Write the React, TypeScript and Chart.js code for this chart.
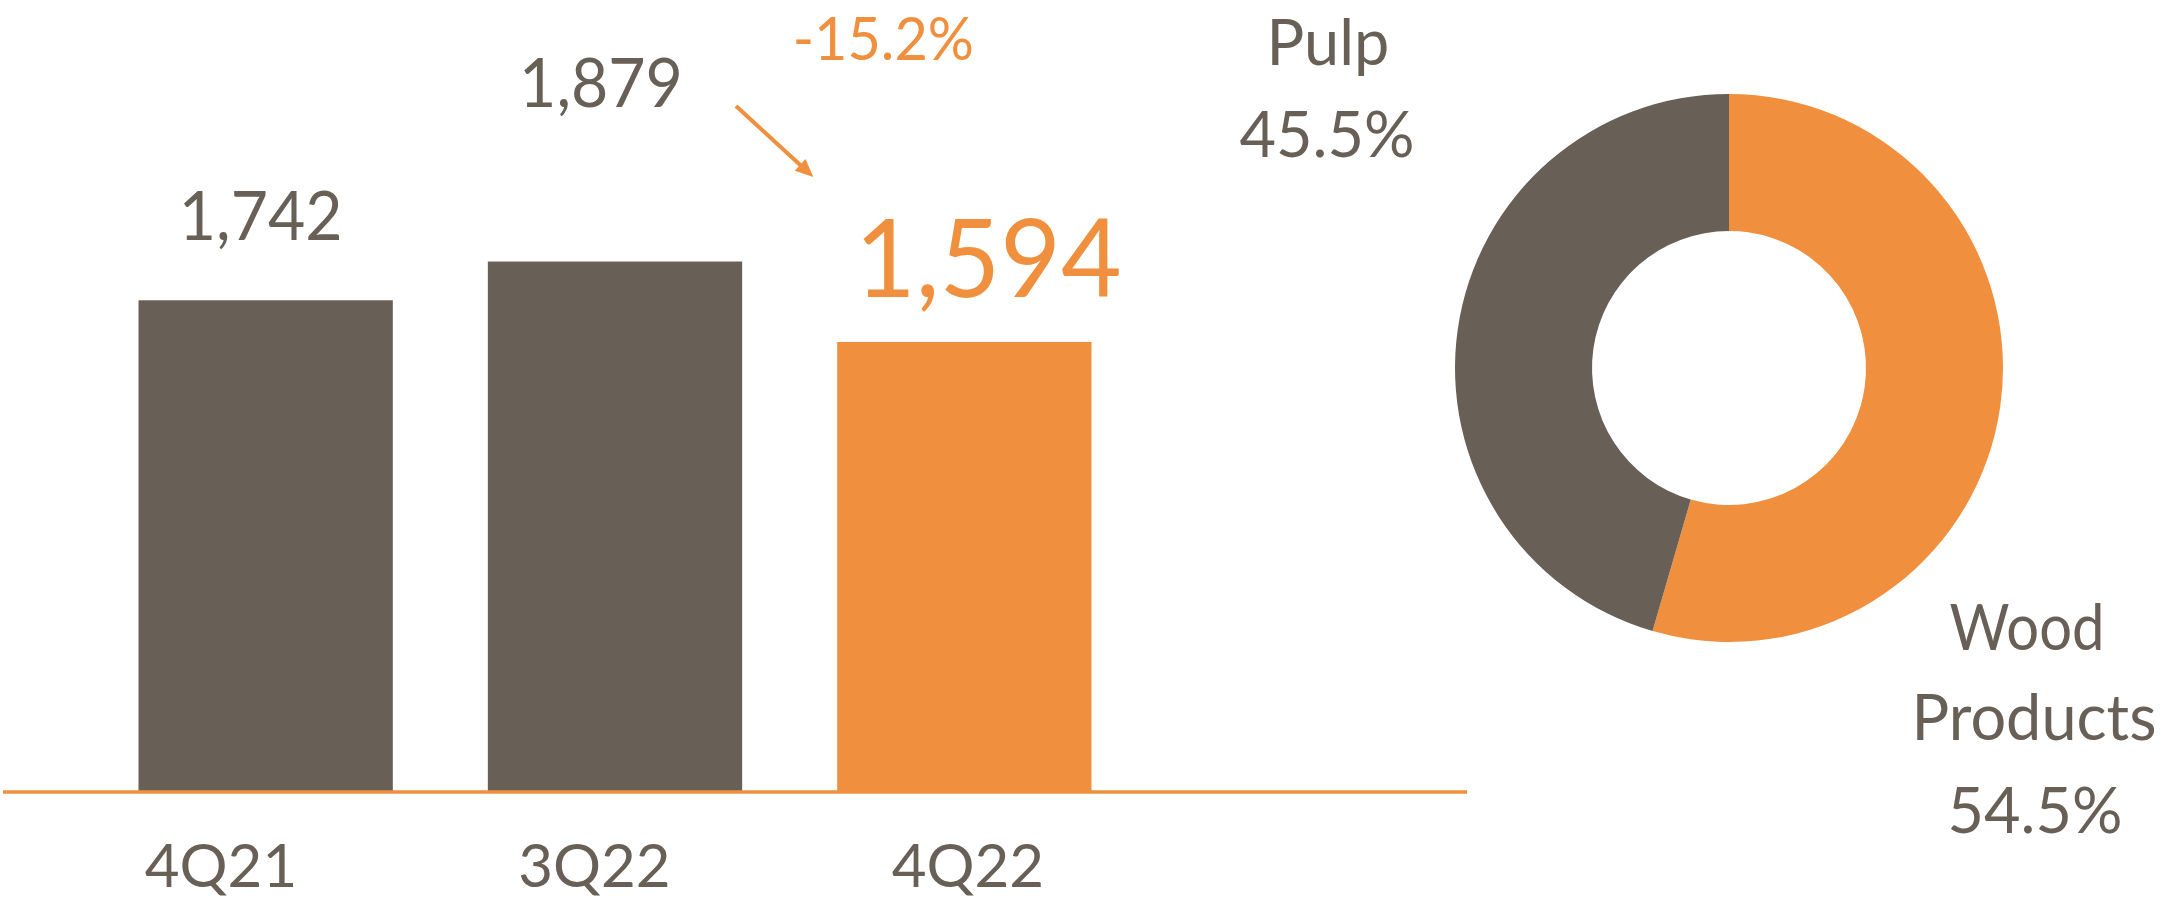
import React, { useEffect, useRef } from "react";
import { Chart, registerables } from "chart.js";

Chart.register(...registerables);

// ---- data ----
const categories = ["4Q21", "3Q22", "4Q22"];
const revenue = [1742, 1879, 1594];
const valueLabels = ["1,742", "1,879", "1,594"];
const changeLabel = "-15.2%";
const segmentNames = ["Wood Products", "Pulp"];
const segmentShares = [54.5, 45.5];
const woodLabelLines = ["Wood", "Products", "54.5%"];
const pulpLabelLines = ["Pulp", "45.5%"];

// ---- style ----
const GREY = "#686057";
const ORANGE = "#F0903F";
const FONT = "Lato, 'Open Sans', sans-serif";

function drawText(
  ctx: CanvasRenderingContext2D,
  text: string,
  x: number,
  y: number,
  size: number,
  color: string,
  squeeze = 1
) {
  ctx.save();
  ctx.font = `normal ${size}px ${FONT}`;
  ctx.fillStyle = color;
  ctx.textAlign = "center";
  ctx.textBaseline = "alphabetic";
  ctx.translate(x, y);
  ctx.scale(squeeze, 1);
  ctx.fillText(text, 0, 0);
  ctx.restore();
}

const barAnnotations = {
  id: "barAnnotations",
  afterDatasetsDraw(chart: any) {
    const ctx: CanvasRenderingContext2D = chart.ctx;
    const b = chart.getDatasetMeta(0).data;
    const zeroY = chart.scales.y.getPixelForValue(0);
    // baseline
    ctx.save();
    ctx.strokeStyle = ORANGE;
    ctx.lineWidth = 3.5;
    ctx.beginPath();
    ctx.moveTo(3, zeroY);
    ctx.lineTo(1467, zeroY);
    ctx.stroke();
    ctx.restore();
    // value labels
    const sq = 0.96;
    drawText(ctx, valueLabels[0], b[0].x - 5, b[0].y - 60, 67, GREY, sq);
    drawText(ctx, valueLabels[1], b[1].x - 14, b[1].y - 154.5, 67, GREY, sq);
    drawText(ctx, valueLabels[2], b[2].x + 24, b[2].y - 45, 109, ORANGE, sq);
    drawText(ctx, changeLabel, b[2].x - 81, b[2].y - 282, 60, ORANGE, sq);
    // arrow
    const x1 = b[1].x + 121, y1 = b[1].y - 155.5;
    const x2 = b[2].x - 151, y2 = b[2].y - 165;
    const ang = Math.atan2(y2 - y1, x2 - x1);
    ctx.save();
    ctx.strokeStyle = ORANGE;
    ctx.fillStyle = ORANGE;
    ctx.lineWidth = 4;
    ctx.beginPath();
    ctx.moveTo(x1, y1);
    ctx.lineTo(x2 - 10 * Math.cos(ang), y2 - 10 * Math.sin(ang));
    ctx.stroke();
    const hl = 18, hw = 8;
    ctx.beginPath();
    ctx.moveTo(x2, y2);
    ctx.lineTo(
      x2 - hl * Math.cos(ang) + hw * Math.sin(ang),
      y2 - hl * Math.sin(ang) - hw * Math.cos(ang)
    );
    ctx.lineTo(
      x2 - hl * Math.cos(ang) - hw * Math.sin(ang),
      y2 - hl * Math.sin(ang) + hw * Math.cos(ang)
    );
    ctx.closePath();
    ctx.fill();
    ctx.restore();
  },
};

const donutLabels = {
  id: "donutLabels",
  afterDatasetsDraw(chart: any) {
    const ctx: CanvasRenderingContext2D = chart.ctx;
    const arc = chart.getDatasetMeta(0).data[0];
    const cx = arc.x, cy = arc.y;
    drawText(ctx, pulpLabelLines[0], cx - 401, cy - 303, 63, GREY);
    drawText(ctx, pulpLabelLines[1], cx - 402, cy - 211, 63, GREY);
    drawText(ctx, woodLabelLines[0], cx + 298, cy + 282, 63, GREY, 0.92);
    drawText(ctx, woodLabelLines[1], cx + 305, cy + 372, 63, GREY);
    drawText(ctx, woodLabelLines[2], cx + 306, cy + 465, 63, GREY);
  },
};

export default function App() {
  const barRef = useRef<HTMLCanvasElement>(null);
  const donutRef = useRef<HTMLCanvasElement>(null);

  useEffect(() => {
    const bar = new Chart(barRef.current!, {
      type: "bar",
      data: {
        labels: categories,
        datasets: [
          {
            data: revenue,
            xAxisID: "x",
            yAxisID: "y",
            backgroundColor: [GREY, GREY, ORANGE],
            borderWidth: 0,
            barPercentage: 0.728,
            categoryPercentage: 1,
          },
        ],
      },
      options: {
        animation: false,
        responsive: false,
        maintainAspectRatio: false,
        layout: { padding: { left: 91, right: 341, top: 233, bottom: 0 } },
        plugins: { legend: { display: false }, tooltip: { enabled: false } },
        scales: {
          x: { type: "category", display: false },
          xl: {
            type: "linear",
            position: "bottom",
            offset: false,
            bounds: "data",
            min: -0.348,
            max: 2.458,
            grid: { display: false, drawTicks: false, offset: false },
            border: { display: false },
            afterBuildTicks: (s: any) => {
              s.ticks = categories.map((_, i) => ({ value: i }));
            },
            ticks: {
              autoSkip: false,
              color: GREY,
              font: { family: FONT, size: 60 },
              padding: 40,
              callback: (v: any) => categories[Math.round(Number(v))],
            },
            afterFit: (s: any) => {
              s.height = 113;
            },
          },
          y: { display: false, min: 0, max: 1980 },
        },
      } as any,
      plugins: [barAnnotations],
    });

    const donut = new Chart(donutRef.current!, {
      type: "doughnut",
      data: {
        labels: segmentNames,
        datasets: [
          {
            data: segmentShares,
            backgroundColor: [ORANGE, GREY],
            borderWidth: 0,
          },
        ],
      },
      options: {
        animation: false,
        responsive: false,
        maintainAspectRatio: false,
        cutout: "50%",
        layout: { padding: { left: 255, right: 174, top: 94, bottom: 263 } },
        plugins: { legend: { display: false }, tooltip: { enabled: false } },
      } as any,
      plugins: [donutLabels],
    });

    return () => {
      bar.destroy();
      donut.destroy();
    };
  }, []);

  return (
    <div
      style={{
        position: "fixed",
        left: 0,
        top: 0,
        width: 2177,
        height: 905,
        background: "#ffffff",
      }}
    >
      <canvas
        ref={barRef}
        width={1480}
        height={905}
        style={{ position: "absolute", left: 0, top: 0, width: 1480, height: 905 }}
      />
      <canvas
        ref={donutRef}
        width={977}
        height={905}
        style={{ position: "absolute", left: 1200, top: 0, width: 977, height: 905 }}
      />
    </div>
  );
}
